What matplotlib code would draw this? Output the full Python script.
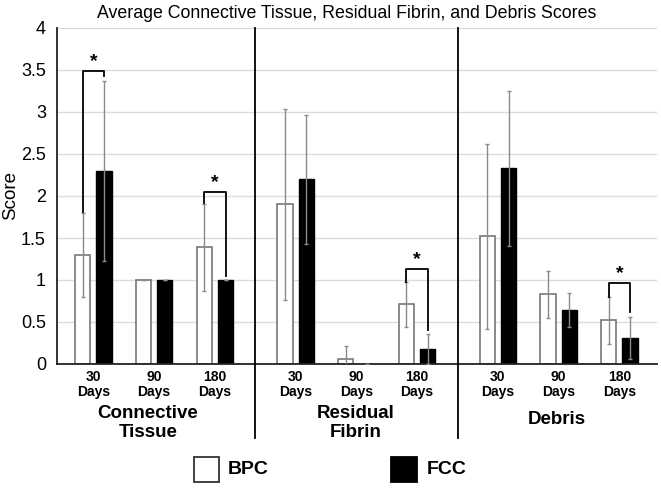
import matplotlib
matplotlib.use("Agg")
import matplotlib.pyplot as plt
from matplotlib.patches import Rectangle

plt.rcParams['font.family'] = ['Liberation Sans', 'DejaVu Sans']

title = "Average Connective Tissue, Residual Fibrin, and Debris Scores"
groups = ["Connective\nTissue", "Residual\nFibrin", "Debris"]
tick_labels = ["30\nDays", "90\nDays", "180\nDays"] * 3
series = ["BPC", "FCC"]
bpc = [1.30, 1.00, 1.39, 1.90, 0.06, 0.71, 1.52, 0.83, 0.52]
fcc = [2.30, 1.00, 1.00, 2.20, 0.00, 0.18, 2.33, 0.64, 0.31]
bpc_err = [0.50, 0.0, 0.52, 1.14, 0.15, 0.27, 1.10, 0.28, 0.28]
fcc_err = [1.07, 0.0, 0.0, 0.77, 0.0, 0.18, 0.92, 0.20, 0.25]
# significance brackets: (category index, bracket height, left leg end, right leg end)
sig = [(0, 3.49, 1.81, 3.43), (2, 2.05, 1.92, 1.05), (5, 1.13, 0.98, 0.40), (8, 0.96, 0.80, 0.62)]

gap = 1.33
pos = [g * (2 + gap) + i for g in range(3) for i in range(3)]
off = 0.175
w = 0.25

fig = plt.figure(figsize=(6.61, 4.88), dpi=100)
ax = fig.add_axes([57/661, 1 - 364/488, 600/661, 336/488])

ax.set_ylim(0, 4)
ax.set_xlim(pos[0] - 0.6, pos[-1] + 0.62)
ax.set_yticks([0, 0.5, 1, 1.5, 2, 2.5, 3, 3.5, 4])
ax.set_yticklabels(["0", "0.5", "1", "1.5", "2", "2.5", "3", "3.5", "4"], fontsize=13)
ax.yaxis.grid(True, color="#dcdcdc", lw=1)
ax.set_axisbelow(True)
for s in ["top", "right"]:
    ax.spines[s].set_visible(False)
for s in ["left", "bottom"]:
    ax.spines[s].set_color("#222222")
    ax.spines[s].set_linewidth(1.3)
ax.tick_params(axis="y", length=0, pad=8)
ax.tick_params(axis="x", length=0, pad=4)
ax.set_xticks(pos)
ax.set_xticklabels(tick_labels, fontsize=10, fontweight="bold", linespacing=1.15)
ax.set_ylabel("Score", fontsize=13.5)
ax.yaxis.set_label_coords(-38/600, 0.5)

xb = [p - off for p in pos]
xf = [p + off for p in pos]
ax.bar(xb, bpc, width=w, color="white", edgecolor="#777777", lw=1.2, zorder=2)
ax.bar(xf, fcc, width=w, color="black", edgecolor="black", lw=1, zorder=2)
ax.errorbar(xb, bpc, yerr=bpc_err, fmt="none", ecolor="#8a8a8a", elinewidth=1, capsize=1.5, zorder=3)
ax.errorbar(xf, fcc, yerr=fcc_err, fmt="none", ecolor="#8a8a8a", elinewidth=1, capsize=1.5, zorder=3)

for i, h, yl, yr in sig:
    ax.plot([xb[i], xb[i], xf[i], xf[i]], [yl, h, h, yr], color="black", lw=1.3, zorder=4, clip_on=False)
    ax.text((xb[i] + xf[i]) / 2, h + 0.01, "*", ha="center", va="bottom", fontsize=14, fontweight="bold")

# separators
for g in range(2):
    xs = (pos[3 * g + 2] + pos[3 * g + 3]) / 2
    ax.plot([xs, xs], [-0.88, 4], color="black", lw=1.3, clip_on=False, zorder=5)

gx = [148, 356, 557]
gy = [423, 423, 419]
for g, lab in enumerate(groups):
    fig.text(gx[g]/661, 1 - gy[g]/488, lab, ha="center", va="center", fontsize=13.5,
             fontweight="bold", linespacing=1.1)

fig.text(347/661, 1 - 13/488, title, ha="center", va="center", fontsize=12.8)

# legend
fig.add_artist(Rectangle((194/661, 1 - 482/488), 25/661, 25/488, transform=fig.transFigure,
                         facecolor="white", edgecolor="#333333", lw=1.3))
fig.text(228/661, 1 - 470/488, series[0], ha="left", va="center", fontsize=14, fontweight="bold")
fig.add_artist(Rectangle((391/661, 1 - 482/488), 26/661, 25/488, transform=fig.transFigure,
                         facecolor="black", edgecolor="black", lw=1.3))
fig.text(427/661, 1 - 470/488, series[1], ha="left", va="center", fontsize=14, fontweight="bold")

fig.savefig("out.png", dpi=100)
